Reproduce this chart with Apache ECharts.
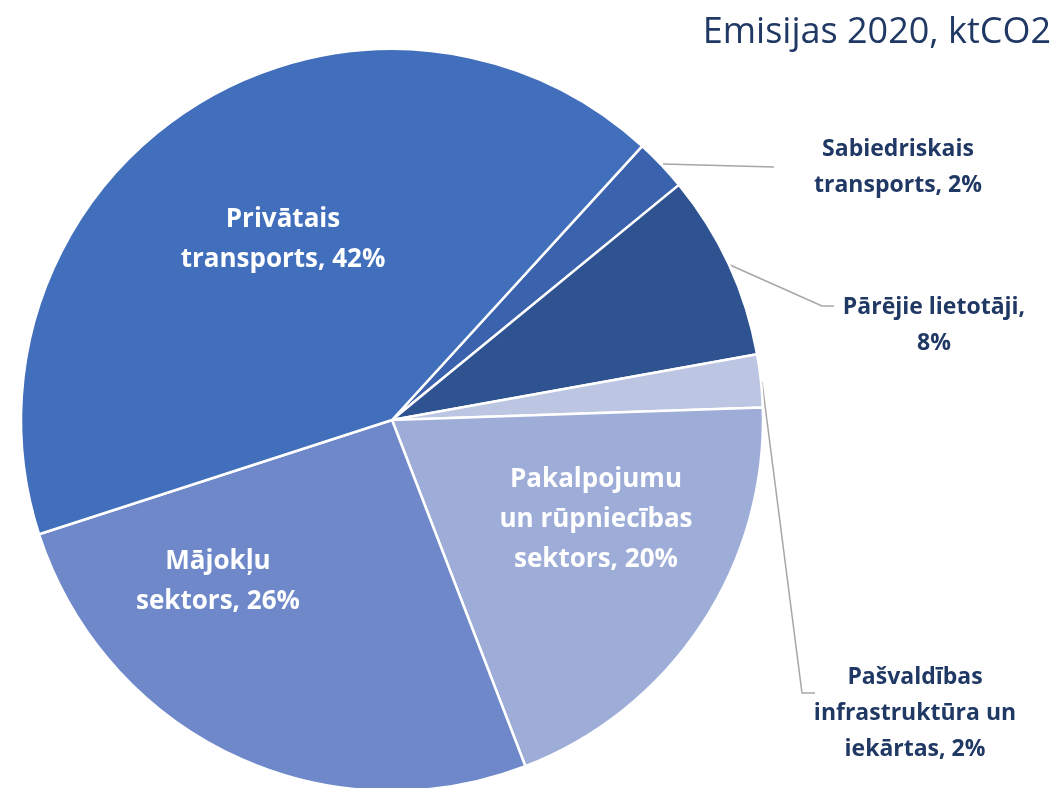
<!DOCTYPE html>
<html>
<head>
<meta charset="utf-8">
<script src="https://cdn.jsdelivr.net/npm/echarts@6/dist/echarts.min.js"></script>
<style>
  html, body { margin: 0; padding: 0; background: #fff; }
  #pie { width: 1061px; height: 788px; }
</style>
</head>
<body>
<div id="pie"></div>
<script type="text/javascript">
// kategorijas (pulksteņrādītāja virzienā, sākot no augšas labajā pusē)
var categories = [
  "Sabiedriskais\ntransports",
  "Pārējie lietotāji",
  "Pašvaldības\ninfrastruktūra un\niekārtas",
  "Pakalpojumu\nun rūpniecības\nsektors",
  "Mājokļu\nsektors",
  "Privātais\ntransports"
];
// emisiju daļas, %
var values = [2.3, 8.1, 2.3, 19.7, 25.9, 41.8];
var colors = ["#3B63AD", "#2F5291", "#BCC6E2", "#9DADD8", "#6E88C9", "#416FBC"];

// etiķešu izvietojums (px)
var labelPos = [
  { x: 898, y: 167, line: [[663, 164], [774, 167]] },
  { x: 934, y: 325, line: [[730, 265], [822, 306], [834, 306]] },
  { x: 915, y: 713, line: [[762, 382], [802, 693], [815, 693]] },
  { x: 596, y: 520 },
  { x: 218, y: 582 },
  { x: 283, y: 240 }
];
var outside = [true, true, true, false, false, false];

var myChart = echarts.init(document.getElementById("pie"), null, { renderer: "canvas" });

var option = {
  animation: false,
  title: {
    text: "Emisijas 2020, ktCO2",
    right: 5,
    top: 10,
    textStyle: {
      fontFamily: "Open Sans",
      fontSize: 36,
      fontWeight: "normal",
      color: "#203864"
    }
  },
  series: [
    {
      type: "pie",
      center: [392, 420],
      radius: 371,
      startAngle: 47.6,
      clockwise: true,
      avoidLabelOverlap: false,
      itemStyle: {
        borderColor: "#ffffff",
        borderWidth: 2.5
      },
      data: categories.map(function(c, i) {
        var o = outside[i];
        return {
          name: c,
          value: values[i],
          itemStyle: { color: colors[i] },
          label: {
            show: true,
            position: o ? "outside" : "inside",
            color: o ? "#203864" : "#ffffff",
            fontSize: o ? 23 : 26,
            lineHeight: o ? 36 : 40,
            fontWeight: "bold",
            fontFamily: "Open Sans",
            align: "center"
          },
          labelLine: {
            show: o,
            lineStyle: { color: "#A6A6A6", width: 1.5 }
          }
        };
      }),
      label: {
        formatter: function(p) {
          // "Pārējie lietotāji" etiķetei procenti jaunā rindā
          var sep = p.dataIndex === 1 ? ",\n" : ", ";
          return p.name + sep + Math.round(p.percent) + "%";
        }
      },
      labelLayout: function(params) {
        var lp = labelPos[params.dataIndex];
        var res = {
          x: lp.x,
          y: lp.y,
          align: "center",
          verticalAlign: "middle"
        };
        if (lp.line) {
          res.labelLinePoints = lp.line;
        }
        return res;
      }
    }
  ]
};
myChart.setOption(option);
</script>
</body>
</html>
